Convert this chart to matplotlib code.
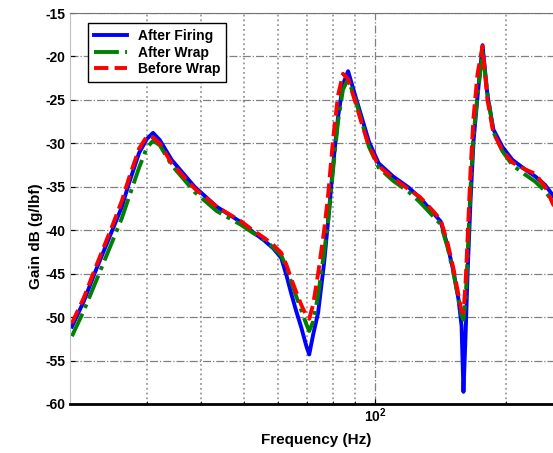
import matplotlib
matplotlib.use('Agg')
import matplotlib.pyplot as plt
from matplotlib.ticker import LogLocator, NullFormatter

# frequencies (Hz)
freq = [20.2, 21.5, 22.8, 25.0, 26.3, 27.3, 28.8, 30.0, 31.0, 32.1, 34.2, 38.6,
        43.4, 49.4, 52.5, 55.8, 58.5, 61.0, 62.7, 64.3, 66.0, 67.8, 69.6, 70.7,
        72.2, 74.1, 76.5, 78.1, 80.2, 82.3, 84.5, 86.8, 90.5, 93.9, 96.9, 102,
        110, 119.6, 127, 136, 141.5, 146.8, 151.5, 155.5, 158, 159.6, 161.4,
        163.1, 165.7, 168.3, 171.9, 176.5, 181.1, 186.9, 196, 206.6, 221, 233,
        245.7, 256, 270]

# gain in dB (g/lbf)
after_firing = [-51.1, -48.2, -44.9, -40.0, -37.3, -34.6, -31.1, -29.5, -28.8, -29.6, -31.9, -35.0,
                -37.3, -39.1, -40.2, -41.2, -42.1, -43.2, -45.2, -47.3, -49.3, -51.2, -53.3, -54.3,
                -52.0, -49.5, -43.7, -39.0, -32.5, -27.0, -23.2, -21.7, -24.8, -27.5, -29.8, -32.3,
                -33.8, -35.1, -36.3, -38.0, -39.0, -41.8, -44.8, -48.0, -51.0, -58.6, -52.0,
                -45.0, -36.5, -29.8, -24.6, -18.7, -24.4, -28.4, -30.4, -31.9, -33.0, -33.8,
                -34.8, -36.0, -38.0]

after_wrap = [-52.2, -49.3, -46.2, -41.3, -38.6, -36.2, -32.8, -30.5, -29.7, -30.2, -32.5, -35.6,
              -37.8, -39.4, -40.3, -41.1, -42.0, -42.9, -44.3, -46.0, -47.6, -49.2, -50.8, -51.6,
              -50.5, -47.5, -42.5, -39.0, -33.0, -27.5, -23.8, -22.6, -25.2, -28.0, -30.4, -32.8,
              -34.3, -35.6, -36.8, -38.4, -39.3, -42.0, -45.0, -48.0, -49.8, -50.3, -48.0,
              -43.0, -35.0, -29.0, -24.5, -19.5, -24.2, -28.7, -30.9, -32.5, -33.6, -34.4,
              -35.5, -36.8, -38.5]

before_wrap = [-50.7, -47.8, -44.5, -39.5, -36.6, -34.0, -30.6, -29.2, -29.3, -30.0, -32.3, -35.2,
               -37.3, -39.0, -40.0, -40.9, -41.7, -42.6, -44.0, -45.6, -47.1, -48.6, -49.8, -50.2,
               -48.5, -45.0, -40.0, -36.0, -29.5, -24.5, -22.0, -22.6, -25.5, -28.2, -30.3, -32.6,
               -34.0, -35.3, -36.2, -37.8, -38.8, -41.5, -44.5, -47.5, -49.3, -49.5, -46.0,
               -41.0, -33.0, -27.0, -22.0, -18.8, -25.0, -28.8, -30.8, -32.2, -33.0, -33.5,
               -35.0, -37.0, -39.0]

yticks = list(range(-60, -14, 5))

plt.rcParams['font.family'] = ['Liberation Sans', 'DejaVu Sans']
plt.rcParams['font.weight'] = 'bold'
plt.rcParams['axes.unicode_minus'] = False

fig = plt.figure(figsize=(5.53, 4.53), dpi=100, facecolor='white')
# axes run past the right edge of the picture (the original is cropped)
ax = fig.add_axes([0.1266, 0.1082, 0.9277, 0.8631])

ax.plot(freq, after_firing, color='#0000ff', linewidth=2.8, label='After Firing')
ax.plot(freq, after_wrap, color='#008000', linewidth=2.8, linestyle='-.', label='After Wrap')
ax.plot(freq, before_wrap, color='#ff0000', linewidth=2.8, linestyle='--', label='Before Wrap')

ax.set_xscale('log')
ax.set_xlim(20, 300)
ax.set_ylim(-60, -15)
ax.set_yticks(yticks)
ax.xaxis.set_major_locator(LogLocator(base=10))
ax.xaxis.set_minor_locator(LogLocator(base=10, subs=range(2, 10)))
ax.xaxis.set_minor_formatter(NullFormatter())

# matlab-like dotted grid
ax.grid(True, which='major', axis='both', color='0.5', linestyle='-.', linewidth=0.9)
ax.grid(True, which='minor', axis='x', color='0.6', linestyle=':', linewidth=1.3)
ax.set_axisbelow(True)

ax.tick_params(axis='both', which='both', direction='in', labelsize=10)
ax.tick_params(axis='x', which='major', pad=2)
for lab in ax.get_xticklabels() + ax.get_yticklabels():
    lab.set_fontweight('bold')

ax.spines['top'].set_color('0.45')
ax.spines['left'].set_color('0.75')
ax.spines['bottom'].set_color('black')
ax.spines['bottom'].set_linewidth(2)

ax.set_xlabel('Frequency (Hz)', fontsize=11, fontweight='bold')
ax.xaxis.set_label_coords(0.48, -0.075)
ax.set_ylabel('Gain dB (g/lbf)', fontsize=11, fontweight='bold')
ax.yaxis.set_label_coords(-0.052, 0.43)

leg = ax.legend(loc='upper left', bbox_to_anchor=(0.035, 0.974), borderaxespad=0,
                fancybox=False, edgecolor='black', framealpha=1,
                prop={'size': 10, 'weight': 'bold'}, handlelength=2.4,
                labelspacing=0.2, borderpad=0.4)
leg.get_frame().set_linewidth(1.0)

fig.savefig('out.png', dpi=100, facecolor='white')
